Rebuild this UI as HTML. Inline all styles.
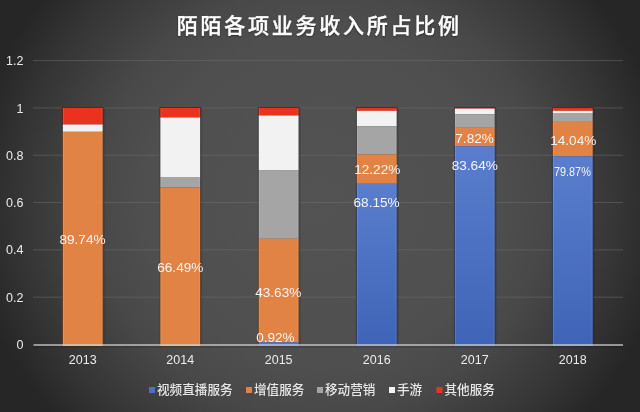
<!DOCTYPE html>
<html><head><meta charset="utf-8"><style>
html,body{margin:0;padding:0;}
body{width:640px;height:412px;overflow:hidden;position:relative;
background:radial-gradient(ellipse 349px 333px at 319.6px 200.9px,#535353 0%,#4f4f4f 50%,#484848 65%,#363636 85%,#262626 100%);}
.t{position:absolute;left:176.7px;top:9px;white-space:nowrap;color:#fff;font:500 21px "Liberation Sans","Noto Sans CJK SC",sans-serif;letter-spacing:2.75px;-webkit-text-stroke:0.35px #fff;text-shadow:0 1px 2px rgba(0,0,0,.5);}
svg{position:absolute;left:0;top:0;}
.ax{font:12.5px "Liberation Sans",sans-serif;fill:#ebebeb;}
.dl{font:13.6px "Liberation Sans",sans-serif;fill:#f4f4f4;}
.lg{font:500 12.6px "Liberation Sans","Noto Sans CJK SC",sans-serif;fill:#e6e6e6;}
</style></head><body>
<div class="t">陌陌各项业务收入所占比例</div>
<svg width="640" height="412" viewBox="0 0 640 412">
<defs><linearGradient id="gb" x1="0" y1="0" x2="0" y2="1"><stop offset="0" stop-color="#5a7ecd"/><stop offset="1" stop-color="#3f64b7"/></linearGradient></defs>
<rect x="33" y="296.68" width="590" height="1" fill="#707070" fill-opacity="0.5"/>
<rect x="33" y="249.36" width="590" height="1" fill="#707070" fill-opacity="0.5"/>
<rect x="33" y="202.04" width="590" height="1" fill="#707070" fill-opacity="0.5"/>
<rect x="33" y="154.72" width="590" height="1" fill="#707070" fill-opacity="0.5"/>
<rect x="33" y="107.40" width="590" height="1" fill="#707070" fill-opacity="0.5"/>
<rect x="33" y="60.08" width="590" height="1" fill="#707070" fill-opacity="0.5"/>
<rect x="103.60" y="108" width="1.2" height="236.50" fill="#000" fill-opacity="0.12"/>
<rect x="61.90" y="107.00" width="41.70" height="17.50" fill="#5a1a12" fill-opacity="0.75"/>
<rect x="61.90" y="124.50" width="41.70" height="7.30" fill="#3a3a3a" fill-opacity="0.75"/>
<rect x="61.90" y="131.80" width="41.70" height="214.20" fill="#5e3519" fill-opacity="0.75"/>
<rect x="62.9" y="108.00" width="39.7" height="16.50" fill="#e9331f"/>
<rect x="62.9" y="108.00" width="1" height="16.50" fill="#fff" fill-opacity="0.12"/>
<rect x="101.60" y="108.00" width="1" height="16.50" fill="#fff" fill-opacity="0.10"/>
<rect x="62.9" y="124.50" width="39.7" height="7.30" fill="#f2f2f2"/>
<rect x="62.9" y="124.50" width="1" height="7.30" fill="#fff" fill-opacity="0.12"/>
<rect x="101.60" y="124.50" width="1" height="7.30" fill="#fff" fill-opacity="0.10"/>
<rect x="62.9" y="131.80" width="39.7" height="214.20" fill="#e18344"/>
<rect x="62.9" y="131.80" width="1" height="214.20" fill="#fff" fill-opacity="0.12"/>
<rect x="101.60" y="131.80" width="1" height="214.20" fill="#fff" fill-opacity="0.10"/>
<rect x="201.10" y="108" width="1.2" height="236.50" fill="#000" fill-opacity="0.12"/>
<rect x="159.40" y="107.00" width="41.70" height="10.50" fill="#5a1a12" fill-opacity="0.75"/>
<rect x="159.40" y="117.50" width="41.70" height="59.50" fill="#3a3a3a" fill-opacity="0.75"/>
<rect x="159.40" y="177.00" width="41.70" height="10.50" fill="#3a3a3a" fill-opacity="0.75"/>
<rect x="159.40" y="187.50" width="41.70" height="158.50" fill="#5e3519" fill-opacity="0.75"/>
<rect x="160.4" y="108.00" width="39.7" height="9.50" fill="#e9331f"/>
<rect x="160.4" y="108.00" width="1" height="9.50" fill="#fff" fill-opacity="0.12"/>
<rect x="199.10" y="108.00" width="1" height="9.50" fill="#fff" fill-opacity="0.10"/>
<rect x="160.4" y="117.50" width="39.7" height="59.50" fill="#f2f2f2"/>
<rect x="160.4" y="117.50" width="1" height="59.50" fill="#fff" fill-opacity="0.12"/>
<rect x="199.10" y="117.50" width="1" height="59.50" fill="#fff" fill-opacity="0.10"/>
<rect x="160.4" y="177.00" width="39.7" height="10.50" fill="#a5a5a5"/>
<rect x="160.4" y="177.00" width="1" height="10.50" fill="#fff" fill-opacity="0.12"/>
<rect x="199.10" y="177.00" width="1" height="10.50" fill="#fff" fill-opacity="0.10"/>
<rect x="160.4" y="187.50" width="39.7" height="158.50" fill="#e18344"/>
<rect x="160.4" y="187.50" width="1" height="158.50" fill="#fff" fill-opacity="0.12"/>
<rect x="199.10" y="187.50" width="1" height="158.50" fill="#fff" fill-opacity="0.10"/>
<rect x="299.50" y="108" width="1.2" height="236.50" fill="#000" fill-opacity="0.12"/>
<rect x="257.80" y="107.00" width="41.70" height="8.50" fill="#5a1a12" fill-opacity="0.75"/>
<rect x="257.80" y="115.50" width="41.70" height="55.00" fill="#3a3a3a" fill-opacity="0.75"/>
<rect x="257.80" y="170.50" width="41.70" height="68.25" fill="#3a3a3a" fill-opacity="0.75"/>
<rect x="257.80" y="238.75" width="41.70" height="103.55" fill="#5e3519" fill-opacity="0.75"/>
<rect x="257.80" y="342.30" width="41.70" height="3.70" fill="#1f2f55" fill-opacity="0.75"/>
<rect x="258.8" y="108.00" width="39.7" height="7.50" fill="#e9331f"/>
<rect x="258.8" y="108.00" width="1" height="7.50" fill="#fff" fill-opacity="0.12"/>
<rect x="297.50" y="108.00" width="1" height="7.50" fill="#fff" fill-opacity="0.10"/>
<rect x="258.8" y="115.50" width="39.7" height="55.00" fill="#f2f2f2"/>
<rect x="258.8" y="115.50" width="1" height="55.00" fill="#fff" fill-opacity="0.12"/>
<rect x="297.50" y="115.50" width="1" height="55.00" fill="#fff" fill-opacity="0.10"/>
<rect x="258.8" y="170.50" width="39.7" height="68.25" fill="#a5a5a5"/>
<rect x="258.8" y="170.50" width="1" height="68.25" fill="#fff" fill-opacity="0.12"/>
<rect x="297.50" y="170.50" width="1" height="68.25" fill="#fff" fill-opacity="0.10"/>
<rect x="258.8" y="238.75" width="39.7" height="103.55" fill="#e18344"/>
<rect x="258.8" y="238.75" width="1" height="103.55" fill="#fff" fill-opacity="0.12"/>
<rect x="297.50" y="238.75" width="1" height="103.55" fill="#fff" fill-opacity="0.10"/>
<rect x="258.8" y="342.30" width="39.7" height="3.70" fill="url(#gb)"/>
<rect x="258.8" y="342.30" width="1" height="3.70" fill="#fff" fill-opacity="0.12"/>
<rect x="297.50" y="342.30" width="1" height="3.70" fill="#fff" fill-opacity="0.10"/>
<rect x="397.60" y="108" width="1.2" height="236.50" fill="#000" fill-opacity="0.12"/>
<rect x="355.90" y="107.00" width="41.70" height="3.80" fill="#5a1a12" fill-opacity="0.75"/>
<rect x="355.90" y="110.80" width="41.70" height="15.60" fill="#3a3a3a" fill-opacity="0.75"/>
<rect x="355.90" y="126.40" width="41.70" height="28.10" fill="#3a3a3a" fill-opacity="0.75"/>
<rect x="355.90" y="154.50" width="41.70" height="29.25" fill="#5e3519" fill-opacity="0.75"/>
<rect x="355.90" y="183.75" width="41.70" height="162.25" fill="#1f2f55" fill-opacity="0.75"/>
<rect x="356.9" y="108.00" width="39.7" height="2.80" fill="#e9331f"/>
<rect x="356.9" y="108.00" width="1" height="2.80" fill="#fff" fill-opacity="0.12"/>
<rect x="395.60" y="108.00" width="1" height="2.80" fill="#fff" fill-opacity="0.10"/>
<rect x="356.9" y="110.80" width="39.7" height="15.60" fill="#f2f2f2"/>
<rect x="356.9" y="110.80" width="1" height="15.60" fill="#fff" fill-opacity="0.12"/>
<rect x="395.60" y="110.80" width="1" height="15.60" fill="#fff" fill-opacity="0.10"/>
<rect x="356.9" y="126.40" width="39.7" height="28.10" fill="#a5a5a5"/>
<rect x="356.9" y="126.40" width="1" height="28.10" fill="#fff" fill-opacity="0.12"/>
<rect x="395.60" y="126.40" width="1" height="28.10" fill="#fff" fill-opacity="0.10"/>
<rect x="356.9" y="154.50" width="39.7" height="29.25" fill="#e18344"/>
<rect x="356.9" y="154.50" width="1" height="29.25" fill="#fff" fill-opacity="0.12"/>
<rect x="395.60" y="154.50" width="1" height="29.25" fill="#fff" fill-opacity="0.10"/>
<rect x="356.9" y="183.75" width="39.7" height="162.25" fill="url(#gb)"/>
<rect x="356.9" y="183.75" width="1" height="162.25" fill="#fff" fill-opacity="0.12"/>
<rect x="395.60" y="183.75" width="1" height="162.25" fill="#fff" fill-opacity="0.10"/>
<rect x="495.60" y="108" width="1.2" height="236.50" fill="#000" fill-opacity="0.12"/>
<rect x="453.90" y="107.00" width="41.70" height="1.60" fill="#5a1a12" fill-opacity="0.75"/>
<rect x="453.90" y="108.60" width="41.70" height="5.80" fill="#3a3a3a" fill-opacity="0.75"/>
<rect x="453.90" y="114.40" width="41.70" height="13.40" fill="#3a3a3a" fill-opacity="0.75"/>
<rect x="453.90" y="127.80" width="41.70" height="18.45" fill="#5e3519" fill-opacity="0.75"/>
<rect x="453.90" y="146.25" width="41.70" height="199.75" fill="#1f2f55" fill-opacity="0.75"/>
<rect x="454.9" y="108.00" width="39.7" height="0.60" fill="#e9331f"/>
<rect x="454.9" y="108.60" width="39.7" height="5.80" fill="#f2f2f2"/>
<rect x="454.9" y="108.60" width="1" height="5.80" fill="#fff" fill-opacity="0.12"/>
<rect x="493.60" y="108.60" width="1" height="5.80" fill="#fff" fill-opacity="0.10"/>
<rect x="454.9" y="114.40" width="39.7" height="13.40" fill="#a5a5a5"/>
<rect x="454.9" y="114.40" width="1" height="13.40" fill="#fff" fill-opacity="0.12"/>
<rect x="493.60" y="114.40" width="1" height="13.40" fill="#fff" fill-opacity="0.10"/>
<rect x="454.9" y="127.80" width="39.7" height="18.45" fill="#e18344"/>
<rect x="454.9" y="127.80" width="1" height="18.45" fill="#fff" fill-opacity="0.12"/>
<rect x="493.60" y="127.80" width="1" height="18.45" fill="#fff" fill-opacity="0.10"/>
<rect x="454.9" y="146.25" width="39.7" height="199.75" fill="url(#gb)"/>
<rect x="454.9" y="146.25" width="1" height="199.75" fill="#fff" fill-opacity="0.12"/>
<rect x="493.60" y="146.25" width="1" height="199.75" fill="#fff" fill-opacity="0.10"/>
<rect x="593.60" y="108" width="1.2" height="236.50" fill="#000" fill-opacity="0.12"/>
<rect x="551.90" y="107.00" width="41.70" height="3.80" fill="#5a1a12" fill-opacity="0.75"/>
<rect x="551.90" y="110.80" width="41.70" height="2.80" fill="#3a3a3a" fill-opacity="0.75"/>
<rect x="551.90" y="113.60" width="41.70" height="8.30" fill="#3a3a3a" fill-opacity="0.75"/>
<rect x="551.90" y="121.90" width="41.70" height="34.35" fill="#5e3519" fill-opacity="0.75"/>
<rect x="551.90" y="156.25" width="41.70" height="189.75" fill="#1f2f55" fill-opacity="0.75"/>
<rect x="552.9" y="108.00" width="39.7" height="2.80" fill="#e9331f"/>
<rect x="552.9" y="108.00" width="1" height="2.80" fill="#fff" fill-opacity="0.12"/>
<rect x="591.60" y="108.00" width="1" height="2.80" fill="#fff" fill-opacity="0.10"/>
<rect x="552.9" y="110.80" width="39.7" height="2.80" fill="#f2f2f2"/>
<rect x="552.9" y="110.80" width="1" height="2.80" fill="#fff" fill-opacity="0.12"/>
<rect x="591.60" y="110.80" width="1" height="2.80" fill="#fff" fill-opacity="0.10"/>
<rect x="552.9" y="113.60" width="39.7" height="8.30" fill="#a5a5a5"/>
<rect x="552.9" y="113.60" width="1" height="8.30" fill="#fff" fill-opacity="0.12"/>
<rect x="591.60" y="113.60" width="1" height="8.30" fill="#fff" fill-opacity="0.10"/>
<rect x="552.9" y="121.90" width="39.7" height="34.35" fill="#e18344"/>
<rect x="552.9" y="121.90" width="1" height="34.35" fill="#fff" fill-opacity="0.12"/>
<rect x="591.60" y="121.90" width="1" height="34.35" fill="#fff" fill-opacity="0.10"/>
<rect x="552.9" y="156.25" width="39.7" height="189.75" fill="url(#gb)"/>
<rect x="552.9" y="156.25" width="1" height="189.75" fill="#fff" fill-opacity="0.12"/>
<rect x="591.60" y="156.25" width="1" height="189.75" fill="#fff" fill-opacity="0.10"/>
<rect x="33.5" y="344" width="589.5" height="2" fill="#d9d9d9" fill-opacity="0.62"/>
<rect x="33.5" y="346" width="589.5" height="2" fill="#000" fill-opacity="0.12"/>
<text x="23.5" y="349.10" text-anchor="end" class="ax">0</text>
<text x="23.5" y="301.78" text-anchor="end" class="ax">0.2</text>
<text x="23.5" y="254.46" text-anchor="end" class="ax">0.4</text>
<text x="23.5" y="207.14" text-anchor="end" class="ax">0.6</text>
<text x="23.5" y="159.82" text-anchor="end" class="ax">0.8</text>
<text x="23.5" y="112.50" text-anchor="end" class="ax">1</text>
<text x="23.5" y="65.18" text-anchor="end" class="ax">1.2</text>
<text x="82.75" y="364.0" text-anchor="middle" class="ax">2013</text>
<text x="180.25" y="364.0" text-anchor="middle" class="ax">2014</text>
<text x="278.65" y="364.0" text-anchor="middle" class="ax">2015</text>
<text x="376.75" y="364.0" text-anchor="middle" class="ax">2016</text>
<text x="474.75" y="364.0" text-anchor="middle" class="ax">2017</text>
<text x="572.75" y="364.0" text-anchor="middle" class="ax">2018</text>
<text x="82.50" y="244.40" text-anchor="middle" class="dl">89.74%</text>
<text x="180.30" y="271.90" text-anchor="middle" class="dl">66.49%</text>
<text x="278.25" y="296.75" text-anchor="middle" class="dl">43.63%</text>
<text x="275.40" y="341.55" text-anchor="middle" class="dl">0.92%</text>
<text x="377.25" y="174.40" text-anchor="middle" class="dl">12.22%</text>
<text x="376.60" y="206.90" text-anchor="middle" class="dl">68.15%</text>
<text x="474.60" y="143.05" text-anchor="middle" class="dl">7.82%</text>
<text x="474.75" y="169.90" text-anchor="middle" class="dl">83.64%</text>
<text x="573.25" y="144.65" text-anchor="middle" class="dl">14.04%</text>
<text transform="translate(572.40,175.95) scale(0.8,1)" x="0" y="0" text-anchor="middle" class="dl">79.87%</text>
<rect x="149" y="387" width="6" height="6" fill="#4a70c8"/>
<text x="157" y="394.2" class="lg">视频直播服务</text>
<rect x="246" y="387" width="6" height="6" fill="#e18344"/>
<text x="254" y="394.2" class="lg">增值服务</text>
<rect x="317" y="387" width="6" height="6" fill="#a5a5a5"/>
<text x="325" y="394.2" class="lg">移动营销</text>
<rect x="389" y="387" width="6" height="6" fill="#f2f2f2"/>
<text x="397" y="394.2" class="lg">手游</text>
<rect x="436.5" y="387" width="6" height="6" fill="#e9331f"/>
<text x="444.5" y="394.2" class="lg">其他服务</text>
</svg>
</body></html>
